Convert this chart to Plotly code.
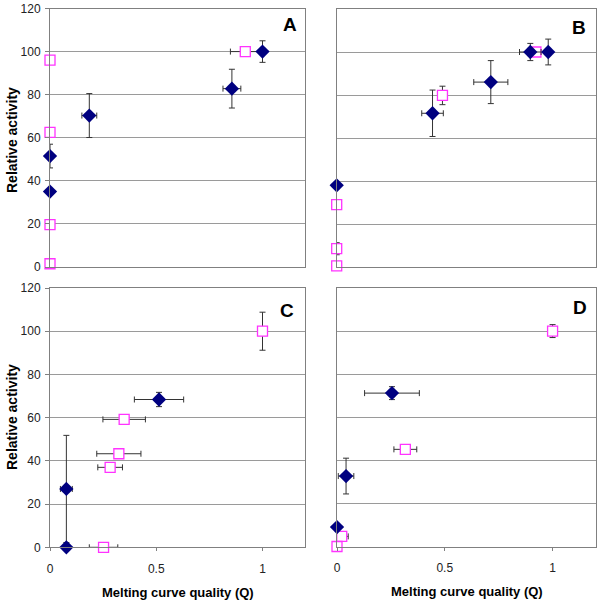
import plotly.graph_objects as go

W, H = 601, 606

# ---------------- data ----------------
# Panel A
a_dia_x = [0.0, 0.0, 0.185, 0.856, 1.0]
a_dia_y = [51.5, 35.0, 70.3, 82.8, 100.0]
a_dia_ex = [0.0, 0.0, 0.035, 0.042, 0.0]
a_dia_ey = [5.5, 0.0, 10.2, 9.0, 5.0]
a_sq_x = [0.0, 0.0, 0.0, 0.0, 0.919]
a_sq_y = [96.0, 62.5, 19.7, 1.5, 100.0]
a_sq_ex = [0.0, 0.0, 0.0, 0.0, 0.07]
a_sq_ey = [0.0, 0.0, 0.0, 0.0, 0.0]

# Panel B
b_dia_x = [0.0, 0.444, 0.714, 0.897, 0.98]
b_dia_y = [38.0, 71.5, 86.0, 100.0, 100.0]
b_dia_ex = [0.0, 0.05, 0.079, 0.05, 0.0]
b_dia_ey = [0.0, 10.8, 10.0, 4.0, 6.0]
b_sq_x = [0.0, 0.0, 0.0, 0.49, 0.923]
b_sq_y = [29.0, 8.5, 0.5, 79.8, 100.0]
b_sq_ex = [0.0, 0.0, 0.0, 0.0, 0.02]
b_sq_ey = [0.0, 2.8, 0.0, 4.3, 0.0]

# Panel C
c_dia_x = [0.077, 0.077, 0.513]
c_dia_y = [0.0, 27.0, 68.4]
c_dia_ex = [0.0, 0.028, 0.116]
c_dia_ey = [0.0, 24.8, 3.3]
c_sq_x = [1.0, 0.349, 0.324, 0.283, 0.252]
c_sq_y = [100.0, 59.2, 43.3, 37.0, 0.0]
c_sq_ex = [0.0, 0.10, 0.104, 0.058, 0.067]
c_sq_ey = [8.8, 0.0, 0.0, 0.0, 0.0]

# Panel D
d_dia_x = [0.255, 0.042, 0.0]
d_dia_y = [71.2, 32.7, 9.0]
d_dia_ex = [0.127, 0.036, 0.0]
d_dia_ey = [3.0, 8.3, 0.0]
d_sq_x = [1.0, 0.317, 0.022, 0.0]
d_sq_y = [100.0, 45.1, 4.7, 0.0]
d_sq_ex = [0.0, 0.053, 0.03, 0.0]
d_sq_ey = [3.0, 0.0, 0.0, 0.0]

panel_labels = ["A", "B", "C", "D"]
y_ticks = [0, 20, 40, 60, 80, 100, 120]
x_ticks = [0, 0.5, 1]
x_tick_text = ["0", "0.5", "1"]
y_title = "Relative activity"
x_title = "Melting curve quality (Q)"

# ---------------- styling ----------------
NAVY = "#000080"
PINK = "#FF33FF"
ERR = "#333333"
GRID = "#9a9a9a"
FRAME = "#808080"

fig = go.Figure()

panels = [
    (a_dia_x, a_dia_y, a_dia_ex, a_dia_ey, a_sq_x, a_sq_y, a_sq_ex, a_sq_ey),
    (b_dia_x, b_dia_y, b_dia_ex, b_dia_ey, b_sq_x, b_sq_y, b_sq_ex, b_sq_ey),
    (c_dia_x, c_dia_y, c_dia_ex, c_dia_ey, c_sq_x, c_sq_y, c_sq_ex, c_sq_ey),
    (d_dia_x, d_dia_y, d_dia_ex, d_dia_ey, d_sq_x, d_sq_y, d_sq_ex, d_sq_ey),
]

for i, (dx, dy, dex, dey, sx, sy, sex, sey) in enumerate(panels):
    xa = "x" if i == 0 else f"x{i+1}"
    ya = "y" if i == 0 else f"y{i+1}"
    fig.add_trace(go.Scatter(
        x=sx, y=sy, xaxis=xa, yaxis=ya, mode="markers", cliponaxis=False,
        marker=dict(symbol="square", size=10, color="white",
                    line=dict(color=PINK, width=1.3)),
        error_x=dict(type="data", array=sex, color=ERR, thickness=1, width=3),
        error_y=dict(type="data", array=sey, color=ERR, thickness=1, width=3),
        showlegend=False))
    fig.add_trace(go.Scatter(
        x=dx, y=dy, xaxis=xa, yaxis=ya, mode="markers", cliponaxis=False,
        marker=dict(symbol="diamond", size=11, color=NAVY,
                    line=dict(color=NAVY, width=0)),
        error_x=dict(type="data", array=dex, color=ERR, thickness=1, width=3),
        error_y=dict(type="data", array=dey, color=ERR, thickness=1, width=3),
        showlegend=False))

# pixel boxes (left, right, top, bottom)
boxes = [(50, 305, 8.5, 267), (336.7, 595.7, 9, 267),
         (50, 305, 288, 547.3), (337, 595.7, 288, 546.5)]

tickfont = dict(family="Liberation Sans, Arial, sans-serif", size=12, color="#222")
layout = dict(width=W, height=H, margin=dict(l=0, r=0, t=0, b=0),
              plot_bgcolor="white", paper_bgcolor="white", showlegend=False)

for i, (l, r, t, b) in enumerate(boxes):
    xk = "xaxis" if i == 0 else f"xaxis{i+1}"
    yk = "yaxis" if i == 0 else f"yaxis{i+1}"
    ya = "y" if i == 0 else f"y{i+1}"
    xa = "x" if i == 0 else f"x{i+1}"
    show_x = i >= 2
    show_y = i in (0, 2)
    layout[xk] = dict(domain=[l / W, r / W], range=[0, 1.2], anchor=ya,
                      showgrid=False, zeroline=False, showline=True, mirror=True,
                      linecolor=FRAME, linewidth=1,
                      tickvals=x_ticks, ticktext=x_tick_text,
                      showticklabels=show_x, ticks="outside" if show_x else "",
                      ticklen=3, tickcolor=FRAME, tickfont=tickfont,
                      ticklabelstandoff=7, automargin=False)
    layout[yk] = dict(domain=[1 - b / H, 1 - t / H], range=[0, 120], anchor=xa,
                      showgrid=True, gridcolor=GRID, gridwidth=1, zeroline=False,
                      showline=True, mirror=True, linecolor=FRAME, linewidth=1,
                      tickvals=y_ticks, showticklabels=show_y,
                      ticks="outside" if show_y else "", ticklen=4,
                      tickcolor=FRAME, tickfont=tickfont, ticklabelstandoff=2,
                      automargin=False)

fig.update_layout(**layout)

letter_pos = [(290, 24), (579, 27), (287, 310), (580, 307)]
for lab, (px, py) in zip(panel_labels, letter_pos):
    fig.add_annotation(x=px / W, y=1 - py / H, xref="paper", yref="paper",
                       text=f"<b>{lab}</b>", showarrow=False,
                       xanchor="center", yanchor="middle",
                       font=dict(family="Liberation Sans, Arial, sans-serif", size=19, color="black"))

ytitle_font = dict(family="Liberation Sans, Arial, sans-serif", size=14, color="black")
xtitle_font = dict(family="Liberation Sans, Arial, sans-serif", size=13, color="black")
for py in (140, 417):
    fig.add_annotation(x=12 / W, y=1 - py / H, xref="paper", yref="paper",
                       text=f"<b>{y_title}</b>", showarrow=False, textangle=-90,
                       xanchor="center", yanchor="middle", font=ytitle_font)
for px, py in ((178, 592), (467, 591)):
    fig.add_annotation(x=px / W, y=1 - py / H, xref="paper", yref="paper",
                       text=f"<b>{x_title}</b>", showarrow=False,
                       xanchor="center", yanchor="middle", font=xtitle_font)

fig.write_html("out.html", config={"displayModeBar": False},
               post_script="document.body.style.margin='0';document.body.style.padding='0';")
